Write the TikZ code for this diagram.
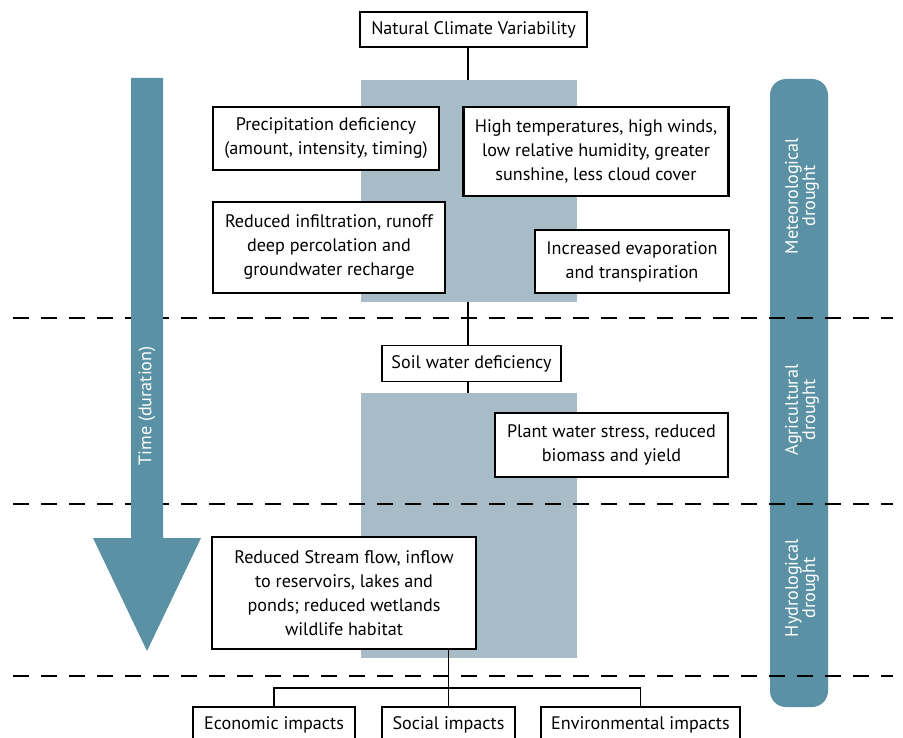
\documentclass[tikz,border=0pt]{standalone}
\usepackage{fontspec}
\setmainfont{PT Sans}
\usepackage{tikz}
\definecolor{paleband}{HTML}{A7BCC7}
\definecolor{droughtblue}{HTML}{5A91A4}

\begin{document}
\begin{tikzpicture}[x=0.75pt,y=-0.75pt,
  box/.style={draw,fill=white,inner sep=0pt,align=center,font=\fontsize{13.6}{18}\selectfont},
  lightbox/.style={box,line width=0.8pt},
  heavybox/.style={box,line width=1.9pt},
  link/.style={line width=1.4pt},
  band/.style={dash pattern=on 12pt off 9pt,line width=1.6pt},
  side/.style={rotate=90,text=white,align=center,font=\fontsize{13.6}{13}\selectfont}]
  \useasboundingbox (0,0) rectangle (903,738);

  % shaded columns
  \node[fill=paleband,inner sep=0pt,minimum width=162pt,minimum height=166.5pt] (shadeA) at (469,191) {};
  \node[fill=paleband,inner sep=0pt,minimum width=162pt,minimum height=198.75pt] (shadeB) at (469,525.5) {};

  \fill[droughtblue,rounded corners=12pt] (770,79) rectangle (828,707);

  \draw[band] (13,318) -- (893,318);
  \draw[band] (13,504) -- (893,504);
  \draw[band] (13,676) -- (893,676);

  % time arrow
  \fill[droughtblue] (131,78) -- (163,78) -- (163,538) -- (201,538) -- (147,651)
    -- (93,538) -- (131,538) -- cycle;
  \node[side] (time) at (147,406) {Time (duration)};

  \node[lightbox,minimum width=170.25pt,minimum height=26.25pt] (ncv) at (473.5,29.5) {Natural Climate Variability};
  \node[lightbox,minimum width=169.5pt,minimum height=47.25pt] (precip) at (326,138.5) {Precipitation deficiency\\(amount, intensity, timing)};
  \node[heavybox,minimum width=198.75pt,minimum height=66.75pt] (heat) at (596,151.5) {High temperatures, high winds,\\low relative humidity, greater\\sunshine, less cloud cover};
  \node[heavybox,minimum width=174pt,minimum height=68.25pt] (infil) at (329,247.5) {Reduced infiltration, runoff\\deep percolation and\\groundwater recharge};
  \node[box,line width=1.2pt,minimum width=145.5pt,minimum height=47.25pt] (evap) at (632,261.5) {Increased evaporation\\and transpiration};
  \node[lightbox,minimum width=134.25pt,minimum height=27pt] (soil) at (471.5,363.5) {Soil water deficiency};
  \node[box,line width=1.4pt,minimum width=174.75pt,minimum height=48pt] (plant) at (611.5,445) {Plant water stress, reduced\\biomass and yield};
  \node[heavybox,minimum width=198pt,minimum height=84pt] (stream) at (344,593) {Reduced Stream flow, inflow\\to reservoirs, lakes and\\ponds; reduced wetlands\\wildlife habitat};
  \node[lightbox,minimum width=121.5pt,minimum height=26.25pt] (econ) at (274,724.5) {Economic impacts};
  \node[lightbox,minimum width=99.75pt,minimum height=26.25pt] (social) at (448.5,724.5) {Social impacts};
  \node[lightbox,minimum width=149.25pt,minimum height=26.25pt] (env) at (640.5,724.5) {Environmental impacts};

  \coordinate (spine) at (468,0);
  \coordinate (fork) at (448.5,688);
  \draw[link] (spine |- ncv.south) -- (spine |- shadeA.north);
  \draw[link] (spine |- shadeA.south) -- (spine |- soil.north);
  \draw[link] (spine |- soil.south) -- (spine |- shadeB.north);
  \draw[link] (fork |- stream.south) -- (social.north);
  \draw[link] (econ.north) |- (fork) -| (env.north);

  \node[side] (meteo) at (802,196) {Meteorological\\drought};
  \node[side] (agri) at (802,410) {Agricultural\\drought};
  \node[side] (hydro) at (802,588) {Hydrological\\drought};
\end{tikzpicture}
\end{document}
